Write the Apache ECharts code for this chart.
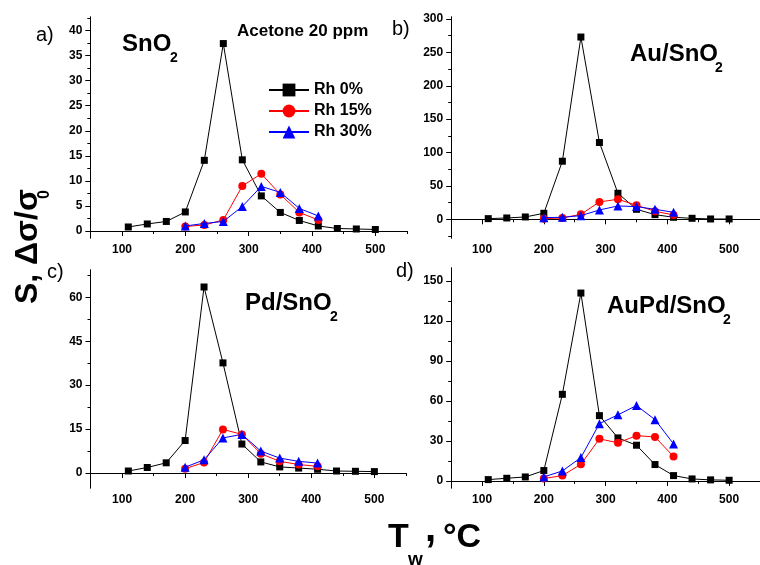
<!DOCTYPE html>
<html>
<head>
<meta charset="utf-8">
<title>Acetone 20 ppm</title>
<script src="https://cdn.jsdelivr.net/npm/echarts@6.0.0/dist/echarts.min.js"></script>
<style>
html,body{margin:0;padding:0;background:#fff;}
#main{width:760px;height:565px;}
</style>
</head>
<body>
<div id="main"></div>
<script>
// temperatures
var tw=[110,140,170,200,230,260,290,320,350,380,410,440,470,500];
var tRh=[200,230,260,290,320,350,380,410];
var xTicks=[100,200,300,400,500];
var xMinor=[50,150,250,350,450,550];

// a) SnO2
var snRh0=[0.8,1.4,1.9,3.8,14.1,37.4,14.2,7.0,3.7,2.1,1.0,0.5,0.4,0.3];
var snRh15=[0.9,1.2,2.2,9.0,11.4,7.3,3.7,2.2];
var snRh30=[1.0,1.5,1.9,4.9,8.9,7.7,4.5,3.0];
var yTicksA=[0,5,10,15,20,25,30,35,40];
var yMinorA=[2.5,7.5,12.5,17.5,22.5,27.5,32.5,37.5,42.5];

// b) Au/SnO2
var auRh0=[1,2,3.5,9,87,273,115,39,15,7,3,1.5,0.5,0.5];
var auRh15=[1,2,7.5,26,30,21,12,6.5];
var auRh30=[2.5,3,5.5,14,20,19,15,10.5];
var yTicksB=[0,50,100,150,200,250,300];
var yMinorB=[-25,25,75,125,175,225,275];

// c) Pd/SnO2
var pdRh0=[0.7,1.9,3.5,11.1,63.5,37.6,9.9,3.8,2.1,1.7,1.3,0.7,0.6,0.5];
var pdRh15=[1.5,3.6,14.9,13.2,6.6,4.0,2.9,2.3];
var pdRh30=[2.0,4.5,12.0,13.2,7.5,5.1,4.0,3.4];
var yTicksC=[0,15,30,45,60];
var yMinorC=[7.5,22.5,37.5,52.5,67.5];

// d) AuPd/SnO2
var aupdRh0=[1,2,3,7.8,65,141,49,32.3,26.8,12.3,4,1.5,0.8,0.5];
var aupdRh15=[1.8,4,12.5,31.6,28.6,34,33,18.3];
var aupdRh30=[3,7.5,17.5,43,49.6,56.6,46,27.8];
var yTicksD=[0,30,60,90,120,150];
var yMinorD=[15,45,75,105,135];

var ff='Liberation Sans, Arial, sans-serif';
var panels=[
	{grid:{left:90.3,top:17,width:316.7,height:221},ymin:-1.4,ymax:42.7,ticks:yTicksA,minor:yMinorA,d:[snRh0,snRh15,snRh30]},
	{grid:{left:451.2,top:17,width:315.4,height:221},ymin:-28,ymax:303,ticks:yTicksB,minor:yMinorB,d:[auRh0,auRh15,auRh30]},
	{grid:{left:90.5,top:270,width:315.4,height:218},ymin:-5.1,ymax:69.3,ticks:yTicksC,minor:yMinorC,d:[pdRh0,pdRh15,pdRh30]},
	{grid:{left:451.2,top:268,width:315.4,height:220},ymin:-5.3,ymax:159.8,ticks:yTicksD,minor:yMinorD,d:[aupdRh0,aupdRh15,aupdRh30]}
];
var names=['Rh 0%','Rh 15%','Rh 30%'];
var colors=['#000000','#ff0000','#0000ff'];
var symbols=['rect','circle','triangle'];
var sizes=[7,8,9];

function pairs(xs,ys){
	var r=[];
	for(var i=0;i<ys.length;i++){ r.push([xs[i],ys[i]]); }
	return r;
}
function axisX(gi,vals,len,label){
	return {gridIndex:gi,type:'value',position:'bottom',min:50,max:550,
		axisLine:{show:true,lineStyle:{color:'#000',width:1}},
		axisTick:{show:true,customValues:vals,length:len,inside:false,lineStyle:{color:'#000',width:1}},
		axisLabel:{show:label,customValues:vals,color:'#000',fontSize:12,fontWeight:'bold',fontFamily:ff,margin:6},
		splitLine:{show:false}};
}
function axisY(gi,p,vals,len,label){
	return {gridIndex:gi,type:'value',position:'left',min:p.ymin,max:p.ymax,
		axisLine:{show:true,lineStyle:{color:'#000',width:1}},
		axisTick:{show:true,customValues:vals,length:len,inside:false,lineStyle:{color:'#000',width:1}},
		axisLabel:{show:label,customValues:vals,color:'#000',fontSize:12,fontWeight:'bold',fontFamily:ff,margin:8},
		splitLine:{show:false}};
}
function txt(x,y,s,size,weight){
	return {type:'text',z:10,style:{x:x,y:y,text:s,fontSize:size,fontWeight:weight||'bold',fontFamily:ff,fill:'#000',align:'left',verticalAlign:'middle'}};
}

var grids=[],xAxes=[],yAxes=[],series=[];
for(var i=0;i<panels.length;i++){
	var p=panels[i];
	grids.push(p.grid);
	xAxes.push(axisX(i,xTicks,5,true));
	xAxes.push(axisX(i,xMinor,3,false));
	yAxes.push(axisY(i,p,p.ticks,5,true));
	yAxes.push(axisY(i,p,p.minor,3,false));
	for(var k=0;k<3;k++){
		series.push({
			name:names[k],type:'line',xAxisIndex:i*2,yAxisIndex:i*2,
			data:pairs(k==0?tw:tRh,p.d[k]),
			symbol:symbols[k],symbolSize:sizes[k],showSymbol:true,
			itemStyle:{color:colors[k]},
			lineStyle:{color:colors[k],width:1},
			z:2+k
		});
	}
}

var graphics=[
	txt(36,35,'a)',20,'normal'),
	txt(392,29,'b)',20,'normal'),
	txt(47,272,'c)',20,'normal'),
	txt(396,271,'d)',20,'normal'),
	txt(237,31,'Acetone 20 ppm',17),
	txt(122,44,'SnO',24), txt(170,58,'2',14),
	txt(630,54,'Au/SnO',24), txt(715,68,'2',14),
	txt(245,303.5,'Pd/SnO',24), txt(330,317,'2',14),
	txt(607,306.5,'AuPd/SnO',24), txt(723,320,'2',14),
	// axis titles
	txt(388,537.5,'T',34), txt(408,560,'w',19), txt(425,530,',',40), txt(443,537.5,'°C',34),
	{type:'text',z:10,x:28.5,y:304,rotation:Math.PI/2,style:{x:0,y:0,text:'S, Δσ/σ',fontSize:32,fontWeight:'bold',fontFamily:ff,fill:'#000',align:'left',verticalAlign:'middle'}},
	{type:'text',z:10,x:45,y:199,rotation:Math.PI/2,style:{x:0,y:0,text:'0',fontSize:16,fontWeight:'bold',fontFamily:ff,fill:'#000',align:'left',verticalAlign:'middle'}}
];

var myChart=echarts.init(document.getElementById('main'));
myChart.setOption({
	animation:false,
	backgroundColor:'#fff',
	legend:{data:names,orient:'vertical',left:263,top:77,itemWidth:40,itemHeight:16,itemGap:5,selectedMode:false,
		textStyle:{color:'#000',fontSize:16,fontWeight:'bold',fontFamily:ff}},
	grid:grids,
	xAxis:xAxes,
	yAxis:yAxes,
	series:series,
	graphic:graphics
});
</script>
</body>
</html>
